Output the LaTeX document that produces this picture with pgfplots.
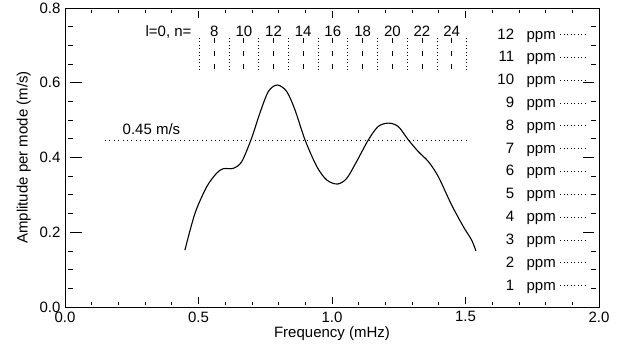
\documentclass[border=0pt]{standalone}
\usepackage{pgfplots}
\pgfplotsset{compat=1.18}
\usepackage{fontspec}
\setmainfont{Liberation Sans}
\pgfplotsset{
  frame/.style={scale only axis, width=534pt, height=299pt,
    at={(65pt,44pt)}, anchor=south west,
    xmin=0, xmax=2, ymin=0, ymax=0.8,
    every tick/.append style={black, line width=0.8pt},
    axis line style={line width=0.9pt}},
}
\begin{document}
\begin{tikzpicture}[font=\fontsize{15}{18}\selectfont]
% bottom x ticks and labels
\begin{axis}[frame,
  xtick={0,0.5,1,1.5,2}, xticklabels={0.0,0.5,1.0,1.5,2.0},
  ytick=\empty, xtick pos=left, minor x tick num=4,
  major tick length=6.5pt, minor tick length=3.3pt,
  every major tick/.append style={yshift=3.25pt},
  every minor tick/.append style={yshift=1.65pt},
  xticklabel style={yshift=-1pt},
  xlabel={Frequency (mHz)}, xlabel style={yshift=2pt},
]
\end{axis}
% top x ticks
\begin{axis}[frame,
  xtick={0,0.5,1,1.5,2}, xticklabels={},
  ytick=\empty, xtick pos=right, minor x tick num=4,
  major tick length=6.5pt, minor tick length=3.3pt,
  every major tick/.append style={yshift=-3.25pt},
  every minor tick/.append style={yshift=-1.65pt},
]
\end{axis}
% right y ticks
\begin{axis}[frame,
  xtick=\empty, ytick={0,0.2,0.4,0.6,0.8}, yticklabels={},
  ytick pos=right, minor y tick num=3,
  major tick length=11pt, minor tick length=5.5pt,
  every major tick/.append style={xshift=-5.5pt},
  every minor tick/.append style={xshift=-2.75pt},
]
\end{axis}
% left y ticks, labels and all data
\begin{axis}[frame,
  xtick=\empty, ytick={0,0.2,0.4,0.6,0.8},
  yticklabels={0.0,0.2,0.4,0.6,0.8},
  ytick pos=left, minor y tick num=3,
  major tick length=11pt, minor tick length=5.5pt,
  every major tick/.append style={xshift=5.5pt},
  every minor tick/.append style={xshift=2.75pt},
  yticklabel style={xshift=-1pt},
  ylabel={Amplitude per mode (m/s)},
  ylabel style={yshift=2pt},
  unbounded coords=jump,
  clip=false,
]
% smoothed amplitude curve
\addplot[black, line width=1.1pt, smooth, tension=0.5] coordinates {
(0.449,0.152) (0.487,0.251) (0.531,0.322) (0.568,0.358) (0.593,0.370)
(0.630,0.371) (0.662,0.389) (0.699,0.452) (0.730,0.519) (0.762,0.577)
(0.795,0.594) (0.830,0.577) (0.861,0.528) (0.899,0.447) (0.943,0.376)
(0.980,0.340) (1.020,0.329) (1.055,0.344) (1.092,0.389) (1.136,0.447)
(1.173,0.483) (1.211,0.492) (1.248,0.483) (1.286,0.447) (1.323,0.416)
(1.361,0.389) (1.398,0.349) (1.448,0.273) (1.492,0.215) (1.523,0.179)
(1.539,0.150)};
% 0.45 m/s threshold
\addplot[black, line width=0.8pt, dash pattern=on 0.9pt off 3.5pt] coordinates {(0.150,0.447) (1.504,0.447)};
\node[anchor=base west] at (axis cs:0.203,0.461) {0.45 m/s};
% l=0 modes, even n (dashed)
\addplot[black, line width=0.8pt, dash pattern=on 5pt off 8pt] coordinates {
(0.559,0.720) (0.559,0.635) (nan,nan)
(0.670,0.720) (0.670,0.635) (nan,nan)
(0.781,0.720) (0.781,0.635) (nan,nan)
(0.892,0.720) (0.892,0.635) (nan,nan)
(1.003,0.720) (1.003,0.635) (nan,nan)
(1.115,0.720) (1.115,0.635) (nan,nan)
(1.226,0.720) (1.226,0.635) (nan,nan)
(1.337,0.720) (1.337,0.635) (nan,nan)
(1.448,0.720) (1.448,0.635)};
% odd n (dotted)
\addplot[black, line width=0.8pt, dash pattern=on 0.9pt off 2.6pt] coordinates {
(0.503,0.720) (0.503,0.635) (nan,nan)
(0.614,0.720) (0.614,0.635) (nan,nan)
(0.725,0.720) (0.725,0.635) (nan,nan)
(0.837,0.720) (0.837,0.635) (nan,nan)
(0.948,0.720) (0.948,0.635) (nan,nan)
(1.059,0.720) (1.059,0.635) (nan,nan)
(1.170,0.720) (1.170,0.635) (nan,nan)
(1.281,0.720) (1.281,0.635) (nan,nan)
(1.393,0.720) (1.393,0.635) (nan,nan)
(1.504,0.720) (1.504,0.635)};
\node[anchor=base east] at (axis cs:0.487,0.725) {l=0, n=};
\node[anchor=base] at (axis cs:0.559,0.725) {8};
\node[anchor=base] at (axis cs:0.670,0.725) {10};
\node[anchor=base] at (axis cs:0.781,0.725) {12};
\node[anchor=base] at (axis cs:0.892,0.725) {14};
\node[anchor=base] at (axis cs:1.003,0.725) {16};
\node[anchor=base] at (axis cs:1.115,0.725) {18};
\node[anchor=base] at (axis cs:1.226,0.725) {20};
\node[anchor=base] at (axis cs:1.337,0.725) {22};
\node[anchor=base] at (axis cs:1.448,0.725) {24};
% ppm scale
\addplot[black, line width=0.8pt, dash pattern=on 0.9pt off 2.6pt] coordinates {
(1.854,0.057) (1.954,0.057) (nan,nan)
(1.854,0.118) (1.954,0.118) (nan,nan)
(1.854,0.179) (1.954,0.179) (nan,nan)
(1.854,0.240) (1.954,0.240) (nan,nan)
(1.854,0.301) (1.954,0.301) (nan,nan)
(1.854,0.363) (1.954,0.363) (nan,nan)
(1.854,0.424) (1.954,0.424) (nan,nan)
(1.854,0.485) (1.954,0.485) (nan,nan)
(1.854,0.546) (1.954,0.546) (nan,nan)
(1.854,0.607) (1.954,0.607) (nan,nan)
(1.854,0.668) (1.954,0.668) (nan,nan)
(1.854,0.729) (1.954,0.729)};
\node[anchor=base east, inner sep=0pt] at (axis cs:1.839,0.045) {1\hspace{12.5pt}ppm};
\node[anchor=base east, inner sep=0pt] at (axis cs:1.839,0.106) {2\hspace{12.5pt}ppm};
\node[anchor=base east, inner sep=0pt] at (axis cs:1.839,0.167) {3\hspace{12.5pt}ppm};
\node[anchor=base east, inner sep=0pt] at (axis cs:1.839,0.228) {4\hspace{12.5pt}ppm};
\node[anchor=base east, inner sep=0pt] at (axis cs:1.839,0.289) {5\hspace{12.5pt}ppm};
\node[anchor=base east, inner sep=0pt] at (axis cs:1.839,0.351) {6\hspace{12.5pt}ppm};
\node[anchor=base east, inner sep=0pt] at (axis cs:1.839,0.412) {7\hspace{12.5pt}ppm};
\node[anchor=base east, inner sep=0pt] at (axis cs:1.839,0.473) {8\hspace{12.5pt}ppm};
\node[anchor=base east, inner sep=0pt] at (axis cs:1.839,0.534) {9\hspace{12.5pt}ppm};
\node[anchor=base east, inner sep=0pt] at (axis cs:1.839,0.595) {10\hspace{12.5pt}ppm};
\node[anchor=base east, inner sep=0pt] at (axis cs:1.839,0.656) {11\hspace{12.5pt}ppm};
\node[anchor=base east, inner sep=0pt] at (axis cs:1.839,0.717) {12\hspace{12.5pt}ppm};
\end{axis}
\pgfresetboundingbox
\useasboundingbox (0,0) rectangle (632pt,351pt);
\end{tikzpicture}
\end{document}
